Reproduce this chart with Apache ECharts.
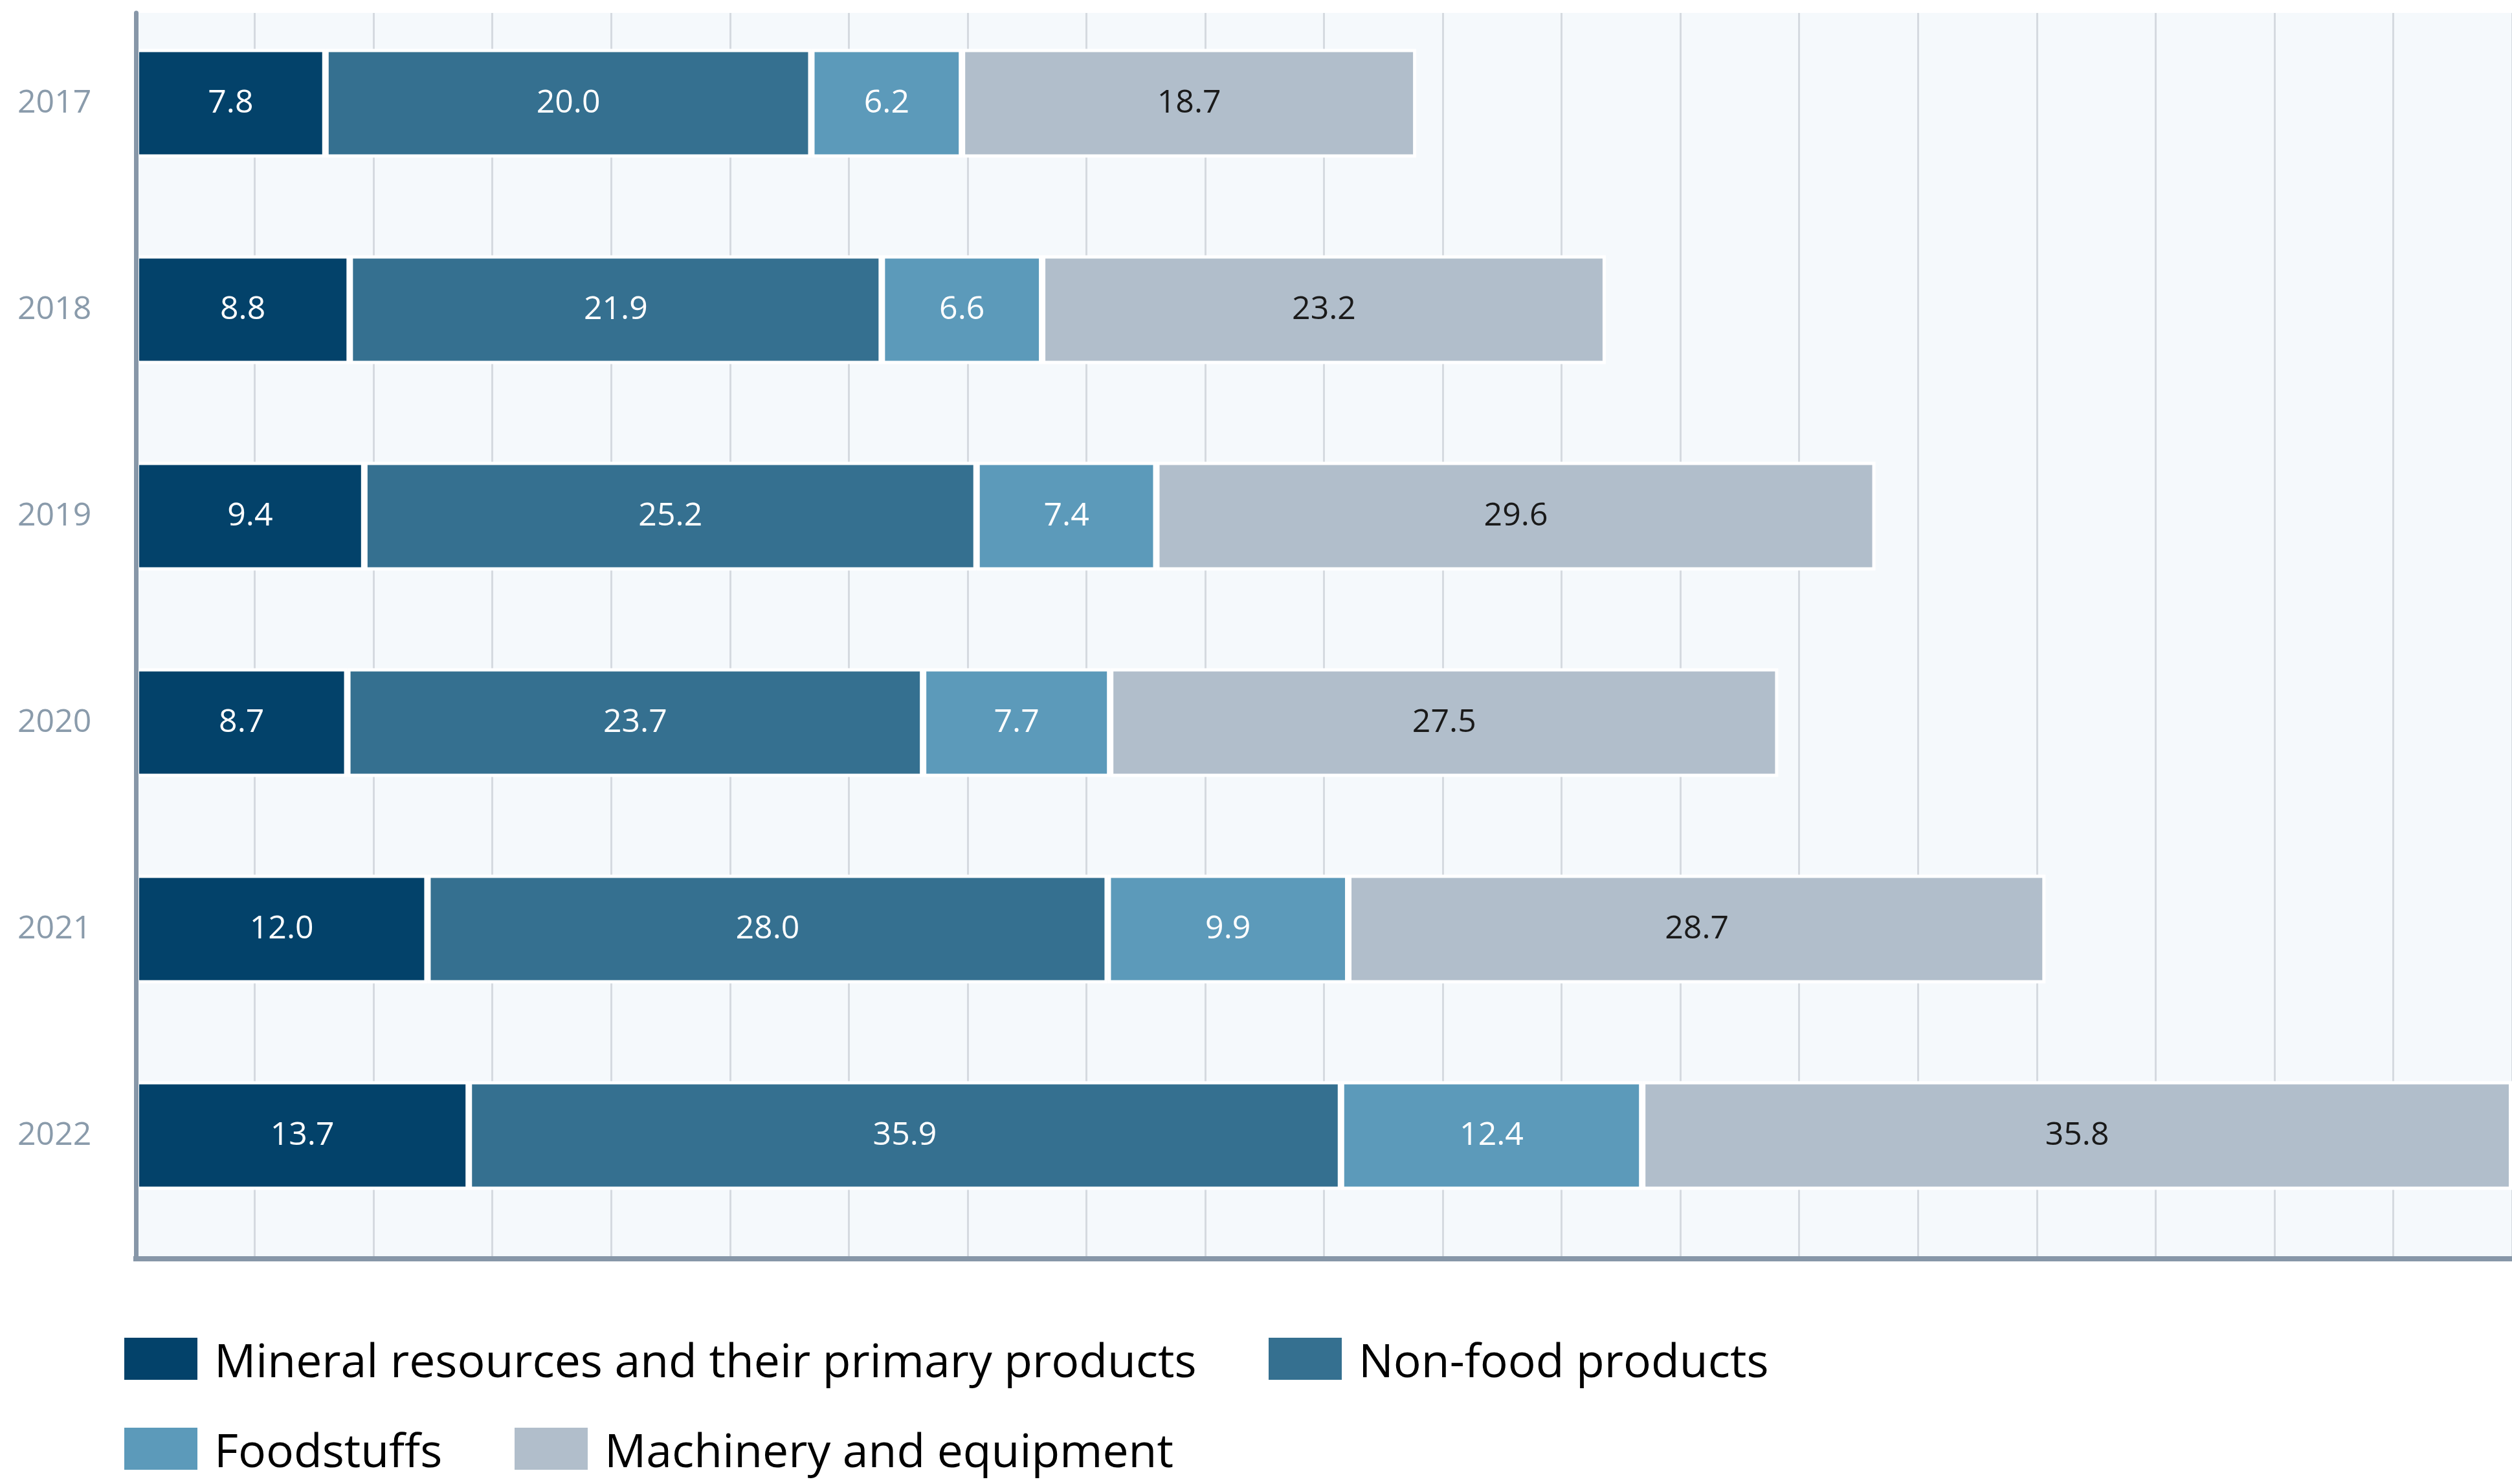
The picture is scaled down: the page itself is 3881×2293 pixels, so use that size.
<!DOCTYPE html>
<html>
<head>
<meta charset="utf-8">
<script src="https://cdn.jsdelivr.net/npm/echarts@6/dist/echarts.min.js"></script>
<style>
  html, body { margin: 0; padding: 0; background: #ffffff; }
  #chart { width: 3881px; height: 2293px; }
</style>
</head>
<body>
<div id="chart"></div>
<script>
// Export structure by commodity group, per year
const years = ['2017', '2018', '2019', '2020', '2021', '2022'];
const mineral = [7.8, 8.8, 9.4, 8.7, 12.0, 13.7];
const nonFood = [20.0, 21.9, 25.2, 23.7, 28.0, 35.9];
const foodstuffs = [6.2, 6.6, 7.4, 7.7, 9.9, 12.4];
const machinery = [18.7, 23.2, 29.6, 27.5, 28.7, 35.8];

const seriesNames = [
  'Mineral resources and their primary products',
  'Non-food products',
  'Foodstuffs',
  'Machinery and equipment'
];
const seriesColors = ['#03426a', '#357090', '#5c9aba', '#b1becb'];
const labelColors = ['#ffffff', '#ffffff', '#ffffff', '#1a1a1a'];
const seriesValues = [mineral, nonFood, foodstuffs, machinery];

// value axis spans exactly the largest stacked total, split into 20 parts
const totals = years.map((_, i) => seriesValues.reduce((s, arr) => s + arr[i], 0));
const axisMax = +Math.max(...totals).toFixed(1);
const axisStep = +(axisMax / 20).toFixed(4);

const FONT = '"Open Sans", "Noto Sans", sans-serif';
const GRID_LEFT = 210;
const GRID_RIGHT = -2;

const chart = echarts.init(document.getElementById('chart'), null, { renderer: 'canvas' });

// legend entries are placed one by one (two rows)
const legendPlaces = [
  { left: 192, top: 2055.5 },
  { left: 1960, top: 2055.5 },
  { left: 192, top: 2194.5 },
  { left: 795, top: 2194.5 }
];

const option = {
  backgroundColor: '#ffffff',
  animation: false,
  textStyle: { fontFamily: FONT },
  grid: [
    // frame: shaded plot area, gridlines and axis lines
    {
      left: GRID_LEFT, right: GRID_RIGHT, top: 20, bottom: 348,
      show: true, backgroundColor: '#f5f9fc', borderWidth: 0
    },
    // bars and year labels
    {
      left: GRID_LEFT, right: GRID_RIGHT, top: -6, height: 1920
    }
  ],
  xAxis: [
    {
      gridIndex: 0, type: 'value', min: 0, max: axisMax, interval: axisStep,
      axisLabel: { show: false }, axisTick: { show: false },
      axisLine: { show: true, lineStyle: { color: '#8797a8', width: 8, cap: 'square' } },
      splitLine: { show: true, lineStyle: { color: '#d5dae0', width: 3 } }
    },
    {
      gridIndex: 1, type: 'value', min: 0, max: axisMax,
      axisLabel: { show: false }, axisTick: { show: false },
      axisLine: { show: false }, splitLine: { show: false }
    }
  ],
  yAxis: [
    {
      gridIndex: 0, type: 'category', data: years, inverse: true, z: 10,
      axisLabel: { show: false }, axisTick: { show: false },
      axisLine: { show: true, lineStyle: { color: '#8797a8', width: 7 } },
      splitLine: { show: false }
    },
    {
      gridIndex: 1, type: 'category', data: years, inverse: true,
      axisTick: { show: false }, axisLine: { show: false }, splitLine: { show: false },
      axisLabel: {
        show: true, align: 'left', margin: 183,
        color: '#8a9bab', fontSize: 50, fontFamily: FONT
      }
    }
  ],
  legend: seriesNames.map((name, i) => ({
    data: [name],
    left: legendPlaces[i].left,
    top: legendPlaces[i].top,
    orient: 'horizontal',
    padding: 0,
    itemWidth: 113,
    itemHeight: 65,
    icon: 'rect',
    selectedMode: false,
    itemStyle: { borderWidth: 0 },
    formatter: n => '{t|' + n + '}',
    textStyle: {
      fontFamily: FONT, fontSize: 71.5, color: '#000000',
      rich: {
        t: {
          fontFamily: FONT, fontSize: 71.5, color: '#000000',
          lineHeight: 80, padding: [16, 0, 0, 21]
        }
      }
    }
  })),
  series: seriesNames.map((name, i) => ({
    name: name,
    type: 'bar',
    stack: 'total',
    xAxisIndex: 1,
    yAxisIndex: 1,
    barWidth: 168,
    data: seriesValues[i],
    itemStyle: { color: seriesColors[i], borderColor: '#ffffff', borderWidth: 5 },
    label: {
      show: true,
      position: 'inside',
      color: labelColors[i],
      fontSize: 50,
      fontFamily: FONT,
      formatter: p => p.value.toFixed(1)
    }
  }))
};

chart.setOption(option);
</script>
</body>
</html>
